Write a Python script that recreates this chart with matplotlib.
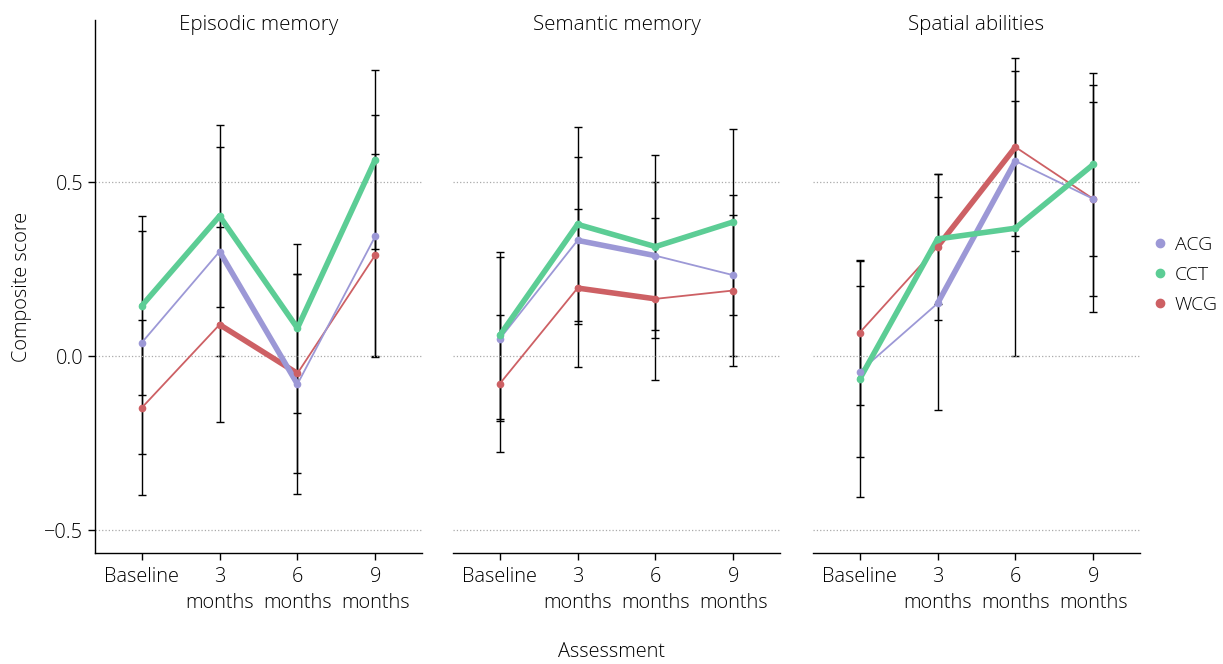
import matplotlib
matplotlib.use("Agg")
import matplotlib.pyplot as plt
from matplotlib.lines import Line2D

plt.rcParams["font.family"] = ["Open Sans", "DejaVu Sans"]
plt.rcParams["font.weight"] = "light"
plt.rcParams["axes.labelweight"] = "light"
plt.rcParams["text.color"] = "black"
plt.rcParams["xtick.color"] = "black"
plt.rcParams["ytick.color"] = "black"

# ---------- DATA ----------
timepoints = ["Baseline", "3\nmonths", "6\nmonths", "9\nmonths"]
groups = ["ACG", "CCT", "WCG"]
domains = ["Episodic memory", "Semantic memory", "Spatial abilities"]

episodic_acg = [0.039, 0.301, -0.080, 0.345]
episodic_cct = [0.145, 0.403, 0.081, 0.565]
episodic_wcg = [-0.148, 0.091, -0.049, 0.291]
episodic_acg_err = [0.320, 0.300, 0.315, 0.347]
episodic_cct_err = [0.257, 0.262, 0.243, 0.258]
episodic_wcg_err = [0.251, 0.280, 0.285, 0.290]

semantic_acg = [0.050, 0.333, 0.289, 0.233]
semantic_cct = [0.060, 0.379, 0.315, 0.386]
semantic_wcg = [-0.079, 0.196, 0.165, 0.189]
semantic_acg_err = [0.235, 0.239, 0.213, 0.231]
semantic_cct_err = [0.240, 0.279, 0.262, 0.268]
semantic_wcg_err = [0.197, 0.228, 0.233, 0.216]

spatial_acg = [-0.044, 0.152, 0.561, 0.452]
spatial_cct = [-0.065, 0.337, 0.368, 0.551]
spatial_wcg = [0.068, 0.315, 0.601, 0.452]
spatial_acg_err = [0.245, 0.305, 0.258, 0.279]
spatial_cct_err = [0.340, 0.188, 0.366, 0.262]
spatial_wcg_err = [0.209, 0.210, 0.256, 0.326]

# 1 = segment drawn bold (change between consecutive assessments)
bold_acg = [0, 1, 0]
bold_cct = [1, 1, 1]
bold_wcg = [0, 1, 0]

colors = {"ACG": "#9c98d6", "CCT": "#5ccd95", "WCG": "#cd6064"}

panels = [
    (episodic_acg, episodic_cct, episodic_wcg, episodic_acg_err, episodic_cct_err, episodic_wcg_err),
    (semantic_acg, semantic_cct, semantic_wcg, semantic_acg_err, semantic_cct_err, semantic_wcg_err),
    (spatial_acg, spatial_cct, spatial_wcg, spatial_acg_err, spatial_cct_err, spatial_wcg_err),
]

# ---------- PLOT ----------
fig = plt.figure(figsize=(12.23, 6.64), dpi=100)
lefts = [95 / 1223, 453 / 1223, 813 / 1223]
width = 327 / 1223
bottom = 1 - 553 / 664
height = (553 - 20) / 664

x = list(range(len(timepoints)))
for i, (title, vals) in enumerate(zip(domains, panels)):
    ax = fig.add_axes([lefts[i], bottom, width, height])
    acg, cct, wcg, acg_e, cct_e, wcg_e = vals
    series = {"ACG": (acg, acg_e, bold_acg), "CCT": (cct, cct_e, bold_cct), "WCG": (wcg, wcg_e, bold_wcg)}
    for g in ["WCG", "ACG", "CCT"]:
        m, e, bold = series[g]
        ax.errorbar(x, m, yerr=e, fmt="none", ecolor="black", elinewidth=1.0,
                    capsize=3, capthick=1.0, zorder=1)
        for k in range(len(x) - 1):
            ax.plot(x[k:k + 2], m[k:k + 2], color=colors[g],
                    lw=4.0 if bold[k] else 1.3, solid_capstyle="round", zorder=2)
        ax.plot(x, m, "o", color=colors[g], ms=4.5, zorder=3)

    ax.set_xlim(-0.6, 3.6)
    ax.set_ylim(-0.565, 0.966)
    ax.set_yticks([-0.5, 0.0, 0.5])
    ax.grid(axis="y", linestyle=":", color="#aaaaaa", lw=0.9)
    ax.set_xticks(x)
    ax.set_xticklabels(timepoints, fontsize=14.3, linespacing=1.4)
    ax.tick_params(axis="x", length=5, width=1, pad=5)
    for s in ["top", "right"]:
        ax.spines[s].set_visible(False)
    ax.spines["bottom"].set_linewidth(1.0)
    if i == 0:
        ax.set_yticklabels(["\u22120.5", "0.0", "0.5"], fontsize=14.3)
        ax.tick_params(axis="y", length=5, width=1)
        ax.set_ylabel("Composite score", fontsize=14.3, labelpad=9, fontweight="light")
        ax.spines["left"].set_linewidth(1.0)
    else:
        ax.spines["left"].set_visible(False)
        ax.tick_params(axis="y", left=False, labelleft=False)
    ax.text(0.5, 0.99, title, transform=ax.transAxes, ha="center", va="center", fontsize=14.8)

fig.text(0.5, 1 - 652 / 664, "Assessment", ha="center", va="center", fontsize=14.3)

handles = [Line2D([], [], marker="o", ls="none", color=colors[g], ms=6) for g in groups]
fig.legend(handles, groups, loc="center left", bbox_to_anchor=(1138 / 1223, 1 - 275 / 664),
           frameon=False, fontsize=14, handletextpad=0.0, labelspacing=0.62,
           borderaxespad=0, handlelength=1.5)

fig.savefig("out.png", dpi=100)
